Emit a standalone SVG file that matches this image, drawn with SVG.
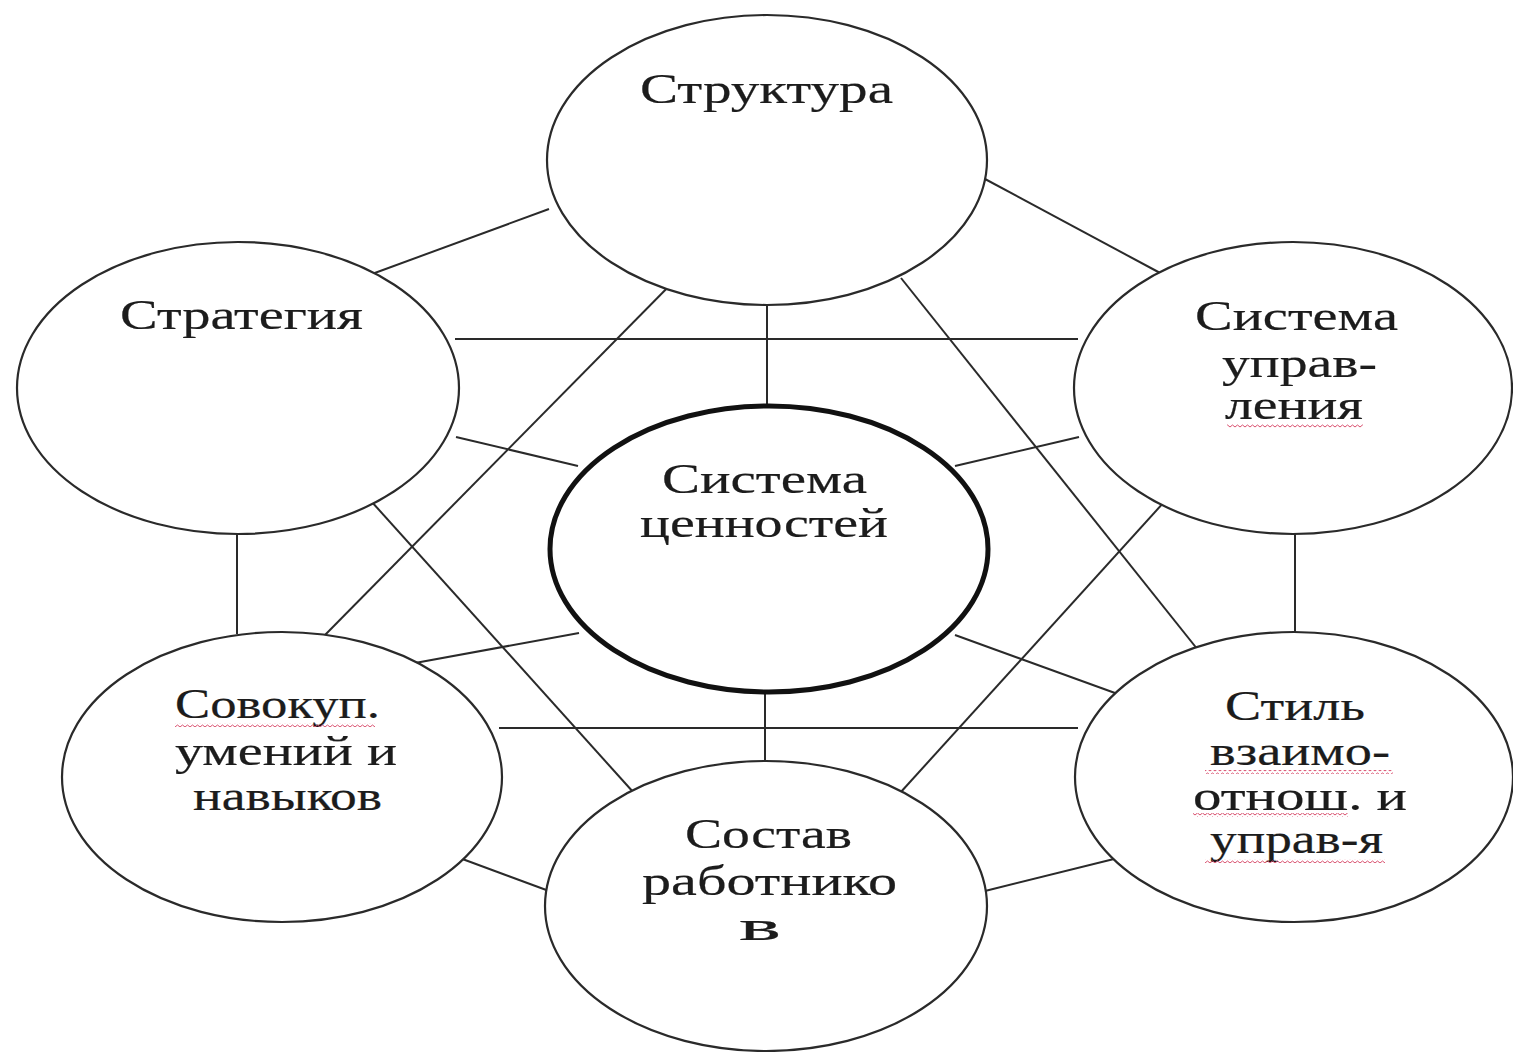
<svg xmlns="http://www.w3.org/2000/svg" width="1513" height="1052" viewBox="0 0 1513 1052">
<style>
.c{fill:#fff;stroke:#2a2a2a;stroke-width:2.2}
.cb{fill:#fff;stroke:#111;stroke-width:5}
.l{stroke:#2a2a2a;stroke-width:2;fill:none}
.t{font-family:"Liberation Serif","Times New Roman",serif;font-size:42px;fill:#1c1c1c;stroke:#1c1c1c;stroke-width:0.2}
.w{fill:url(#wave)}
</style>
<defs>
<pattern id="wave" width="5" height="4" patternUnits="userSpaceOnUse">
<path d="M0 3 L2.5 1 L5 3" fill="none" stroke="#d8506e" stroke-width="1"/>
</pattern>
</defs>
<rect width="1513" height="1052" fill="#fff"/>
<g id="connectors">
<line class="l" x1="549" y1="209" x2="372" y2="274"/>
<line class="l" x1="985" y1="179" x2="1162" y2="274"/>
<line class="l" x1="455" y1="339" x2="1078" y2="339"/>
<line class="l" x1="767" y1="302" x2="767" y2="407"/>
<line class="l" x1="680" y1="275" x2="325" y2="635"/>
<line class="l" x1="901" y1="278" x2="1210" y2="665"/>
<line class="l" x1="456" y1="437" x2="578" y2="466"/>
<line class="l" x1="1079" y1="437" x2="955" y2="466"/>
<line class="l" x1="237" y1="531" x2="237" y2="634"/>
<line class="l" x1="1295" y1="531" x2="1295" y2="634"/>
<line class="l" x1="371" y1="501" x2="634" y2="793"/>
<line class="l" x1="1165" y1="501" x2="900" y2="793"/>
<line class="l" x1="579" y1="633" x2="415" y2="663"/>
<line class="l" x1="955" y1="635" x2="1115" y2="693"/>
<line class="l" x1="499" y1="728" x2="1078" y2="728"/>
<line class="l" x1="765" y1="690" x2="765" y2="764"/>
<line class="l" x1="457" y1="857" x2="549" y2="891"/>
<line class="l" x1="1122" y1="857" x2="985" y2="891"/>
</g>
<g id="structure">
<ellipse class="c" cx="767" cy="160" rx="220" ry="145"/>
<text class="t" x="640" y="103" textLength="253" lengthAdjust="spacingAndGlyphs">Структура</text>
</g>
<g id="strategy">
<ellipse class="c" cx="238" cy="388" rx="221" ry="146"/>
<text class="t" x="120" y="329" textLength="243" lengthAdjust="spacingAndGlyphs">Стратегия</text>
</g>
<g id="management">
<ellipse class="c" cx="1293" cy="388" rx="219" ry="146"/>
<text class="t" x="1195" y="330" textLength="203" lengthAdjust="spacingAndGlyphs">Система</text>
<text class="t" x="1222" y="377" textLength="155" lengthAdjust="spacingAndGlyphs">управ-</text>
<text class="t" x="1225" y="419" textLength="138" lengthAdjust="spacingAndGlyphs">ления</text>
<rect class="w" x="1227" y="424" width="136" height="4"/>
</g>
<g id="values">
<ellipse class="cb" cx="769" cy="549" rx="219" ry="143"/>
<text class="t" x="662" y="493" textLength="205" lengthAdjust="spacingAndGlyphs">Система</text>
<text class="t" x="640" y="537" textLength="248" lengthAdjust="spacingAndGlyphs">ценностей</text>
</g>
<g id="skills">
<ellipse class="c" cx="282" cy="777" rx="220" ry="145"/>
<text class="t" x="175" y="718" textLength="205" lengthAdjust="spacingAndGlyphs">Совокуп.</text>
<rect class="w" x="175" y="723" width="200" height="4"/>
<text class="t" x="175" y="765" textLength="222" lengthAdjust="spacingAndGlyphs">умений и</text>
<text class="t" x="193" y="810" textLength="189" lengthAdjust="spacingAndGlyphs">навыков</text>
</g>
<g id="staff">
<ellipse class="c" cx="766" cy="906" rx="221" ry="145"/>
<text class="t" x="685" y="848" textLength="167" lengthAdjust="spacingAndGlyphs">Состав</text>
<text class="t" x="642" y="895" textLength="255" lengthAdjust="spacingAndGlyphs">работнико</text>
<text class="t" x="739" y="940" textLength="42" lengthAdjust="spacingAndGlyphs">в</text>
</g>
<g id="style">
<ellipse class="c" cx="1294" cy="777" rx="219" ry="145"/>
<text class="t" x="1225" y="720" textLength="140" lengthAdjust="spacingAndGlyphs">Стиль</text>
<text class="t" x="1210" y="765" textLength="180" lengthAdjust="spacingAndGlyphs">взаимо-</text>
<rect class="w" x="1205" y="770" width="188" height="4"/>
<text class="t" x="1193" y="810" textLength="214" lengthAdjust="spacingAndGlyphs">отнош. и</text>
<rect class="w" x="1193" y="813" width="155" height="4"/>
<text class="t" x="1210" y="853" textLength="173" lengthAdjust="spacingAndGlyphs">управ-я</text>
<rect class="w" x="1205" y="859" width="180" height="4"/>
</g>
</svg>
